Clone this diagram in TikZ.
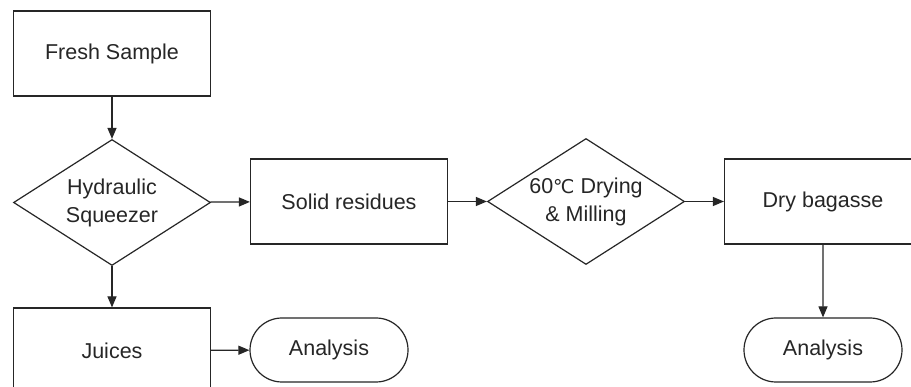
\documentclass[tikz,border=0pt]{standalone}
\usepackage{fontspec}
\setmainfont{Liberation Sans}
\newfontfamily\dejavu{DejaVu Sans}
\usetikzlibrary{shapes.geometric,shapes.misc,arrows.meta}
\begin{document}
\begin{tikzpicture}[x=1pt,y=-1pt,
  every node/.style={font=\fontsize{21.5}{28}\selectfont, text=black!85, align=center},
  procbox/.style={draw=black!85, line width=1.2pt, rectangle, minimum width=197pt, minimum height=85pt, inner sep=0pt},
  decbox/.style={draw=black!85, line width=1.2pt, diamond, aspect=1.56, minimum width=197pt, minimum height=126pt, inner sep=0pt},
  pillbox/.style={draw=black!85, line width=1.2pt, rounded rectangle, minimum width=158pt, minimum height=64pt, inner sep=0pt},
  conn/.style={draw=black!85, line width=1.2pt, -{Triangle[length=11pt,width=9pt]}}]
\clip (0,0) rectangle (911,387);
\fill[white] (0,0) rectangle (911,387);
\node[procbox] (fresh) at (112,53.5) {Fresh Sample};
\node[decbox] (hyd) at (112,202.5) {Hydraulic\\Squeezer};
\node[procbox] (solid) at (349,201.5) {Solid residues};
\node[decbox] (dry) at (586,201.5) {60{\dejavu\fontsize{19}{28}\selectfont ℃} Drying\\\& Milling};
\node[procbox] (bag) at (823,201.5) {Dry bagasse};
\node[procbox] (juice) at (112,350.5) {Juices};
\node[pillbox] (an1) at (329,350) {Analysis};
\node[pillbox] (an2) at (823,350) {Analysis};
\draw[conn] (fresh) -- (hyd);
\draw[conn] (hyd) -- (solid);
\draw[conn] (hyd) -- (juice);
\draw[conn] (solid) -- (dry);
\draw[conn] (dry) -- (bag);
\draw[conn] (juice) -- (an1);
\draw[conn] (bag) -- (an2);
\end{tikzpicture}
\end{document}
